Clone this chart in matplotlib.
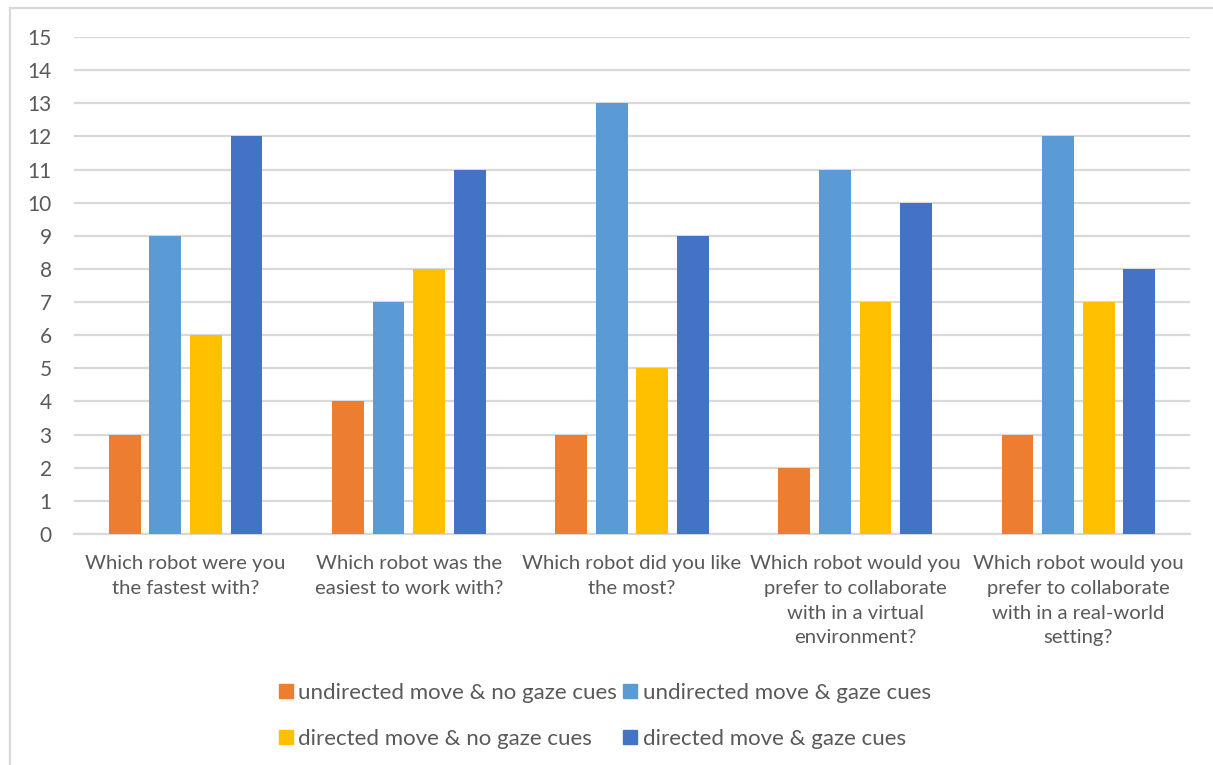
import matplotlib
matplotlib.use("Agg")
import matplotlib.pyplot as plt
from matplotlib.lines import Line2D
import numpy as np

categories = [
    "Which robot were you\nthe fastest with?",
    "Which robot was the\neasiest to work with?",
    "Which robot did you like\nthe most?",
    "Which robot would you\nprefer to collaborate\nwith in a virtual\nenvironment?",
    "Which robot would you\nprefer to collaborate\nwith in a real-world\nsetting?",
]
series_names = [
    "undirected move & no gaze cues",
    "undirected move & gaze cues",
    "directed move & no gaze cues",
    "directed move & gaze cues",
]
undirected_no_gaze = [3, 4, 3, 2, 3]
undirected_gaze = [9, 7, 13, 11, 12]
directed_no_gaze = [6, 8, 5, 7, 7]
directed_gaze = [12, 11, 9, 10, 8]
colors = ["#ED7D31", "#5B9BD5", "#FFC000", "#4472C4"]
yticks = list(range(0, 16))

W, H = 1213, 765
fig = plt.figure(figsize=(W / 100, H / 100), dpi=100)
plt.rcParams["font.family"] = ["Lato", "DejaVu Sans"]
text_color = "#595959"
grid_color = "#D9D9D9"

ax = fig.add_axes([74 / W, 1 - 534 / H, (1190 - 74) / W, (534 - 37) / H])

values = [undirected_no_gaze, undirected_gaze, directed_no_gaze, directed_gaze]
x = np.arange(len(categories))
bar_w = 0.143
step = 0.182
for i, (vals, col) in enumerate(zip(values, colors)):
    ax.bar(x + (i - 1.5) * step, vals, width=bar_w, color=col, zorder=3,
           label=series_names[i])

ax.set_xlim(-0.5, len(categories) - 0.5)
ax.set_ylim(0, 15)
ax.set_yticks(yticks)
ax.set_yticklabels([str(t) for t in yticks])
ax.yaxis.grid(True, color=grid_color, linewidth=1.6, zorder=0)
ax.set_axisbelow(True)
for s in ["top", "right", "left"]:
    ax.spines[s].set_visible(False)
ax.spines["bottom"].set_color(grid_color)
ax.spines["bottom"].set_linewidth(1.6)
ax.tick_params(axis="y", length=0, pad=16, labelsize=15, labelcolor=text_color)
ax.tick_params(axis="x", length=0, pad=15, labelsize=14.6, labelcolor=text_color)
ax.set_xticks(x)
ax.set_xticklabels(categories, linespacing=1.56)

# Legend in two rows with square swatches (row-wise order)
handles = [Line2D([0], [0], marker="s", linestyle="none", markersize=10,
                  markerfacecolor=c, markeredgecolor=c) for c in colors]
order = [0, 2, 1, 3]
fig.legend([handles[i] for i in order], [series_names[i] for i in order],
           loc="center", ncol=2,
           bbox_to_anchor=(605 / W, 1 - 716 / H), frameon=False,
           fontsize=16, labelcolor=text_color, handlelength=0.6,
           handletextpad=0.25, columnspacing=0.3, labelspacing=1.15,
           borderaxespad=0)

# Chart frame (left and top edges)
fig.add_artist(Line2D([10 / W, 10 / W], [0, 1 - 7.5 / H], color=grid_color,
                      linewidth=1.6, transform=fig.transFigure))
fig.add_artist(Line2D([10 / W, 1], [1 - 7.5 / H, 1 - 7.5 / H], color=grid_color,
                      linewidth=1.6, transform=fig.transFigure))

fig.savefig("out.png", dpi=100, facecolor="white")
